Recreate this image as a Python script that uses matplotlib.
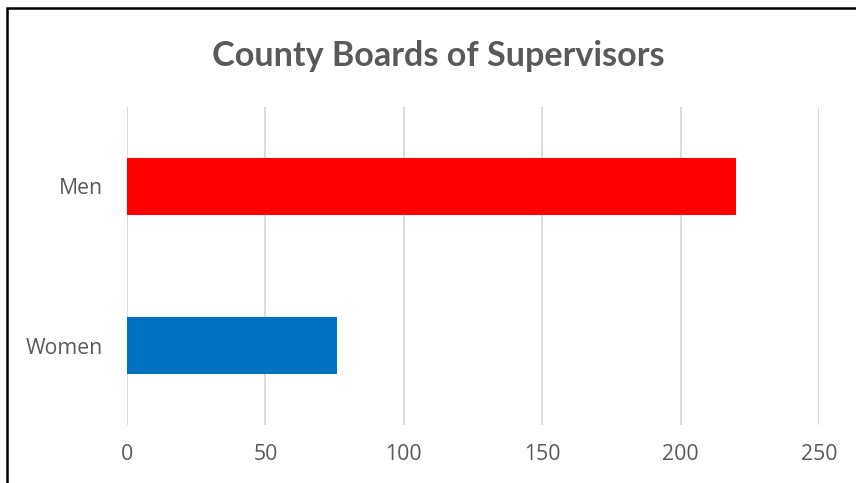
import matplotlib
matplotlib.use("Agg")
import matplotlib.pyplot as plt
from matplotlib.patches import Rectangle

# данні
categories = ["Women", "Men"]
values = [76, 220]
colors = ["#0070C0", "#FF0000"]
xticks = [0, 50, 100, 150, 200, 250]

plt.rcParams['font.family'] = ['Open Sans', 'DejaVu Sans']

W, H = 856, 483
fig = plt.figure(figsize=(W / 100, H / 100), dpi=100)
fig.patch.set_facecolor('white')

# axes: x 127..819, y 107..425 (px)
ax = fig.add_axes([127 / W, 1 - 425 / H, (819 - 127) / W, (425 - 107) / H])
ax.barh(range(len(categories)), values, height=0.355, color=colors, zorder=3)

ax.set_xlim(0, 250)
ax.set_ylim(-0.5, 1.5)
ax.set_xticks(xticks)
ax.set_yticks(range(len(categories)))
ax.set_yticklabels(categories)
ax.grid(axis='x', color='#d9d9d9', lw=1.3, zorder=0)
for s in ax.spines.values():
    s.set_visible(False)
ax.tick_params(length=0, labelsize=15.3, colors='#595959')
ax.tick_params(axis='x', pad=14)
ax.tick_params(axis='y', pad=17)

fig.text(438 / W, 1 - 56 / H, "County Boards of Supervisors", ha='center', va='center',
         fontsize=24.6, fontweight='bold', color='#595959', family=['Lato', 'DejaVu Sans'])

# рамка
fig.patches.append(Rectangle((7 / W, -0.1), 1.2, 1 - 8 / H + 0.1, transform=fig.transFigure,
                             fill=False, ec='black', lw=1.8))

fig.savefig("out.png", dpi=100)
